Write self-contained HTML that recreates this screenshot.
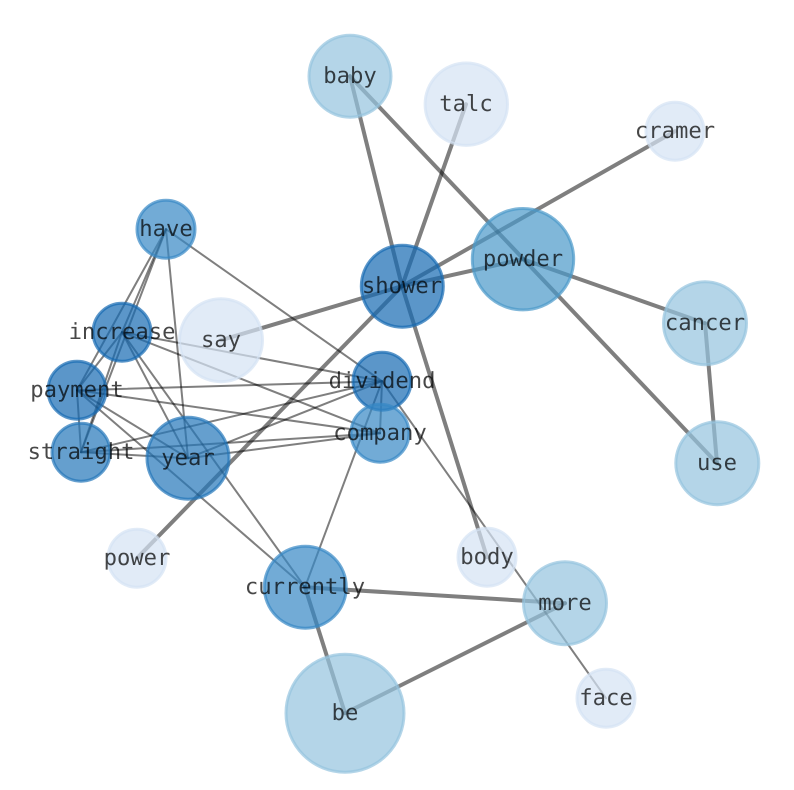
<!DOCTYPE html>
<html><head><meta charset="utf-8"><style>
html,body{margin:0;padding:0;background:#fff}
svg{display:block}
text{font-family:"DejaVu Sans Mono",monospace;font-size:22.2px;fill:#000;fill-opacity:.72;text-anchor:middle;dominant-baseline:central;text-rendering:geometricPrecision}
.t{stroke:#000;stroke-opacity:.5;stroke-width:4;stroke-linecap:round}
.n{stroke:#000;stroke-opacity:.5;stroke-width:2;stroke-linecap:round}
circle{fill-opacity:.7;stroke-opacity:.7;stroke-width:3}
.a{fill:#d4e3f3;stroke:#d4e3f3}
.b{fill:#94c3de;stroke:#94c3de}
.c{fill:#4a98c9;stroke:#4a98c9}
.d{fill:#3687c4;stroke:#3687c4}
.e{fill:#2376b9;stroke:#2376b9}
.f{fill:#1669b2;stroke:#1669b2}
</style></head><body>
<svg width="794" height="790" viewBox="0 0 794 790" xmlns="http://www.w3.org/2000/svg">
<g transform="translate(0,.2)">
<g class="t">
<line x1="350" y1="76" x2="402" y2="286"/>
<line x1="466" y1="104" x2="402" y2="286"/>
<line x1="675" y1="131" x2="402" y2="286"/>
<line x1="523" y1="259" x2="402" y2="286"/>
<line x1="221" y1="340" x2="402" y2="286"/>
<line x1="137" y1="558" x2="402" y2="286"/>
<line x1="487" y1="557" x2="402" y2="286"/>
<line x1="350" y1="76" x2="717" y2="463"/>
<line x1="523" y1="259" x2="705" y2="323"/>
<line x1="705" y1="323" x2="717" y2="463"/>
<line x1="305" y1="587" x2="565" y2="603"/>
<line x1="305" y1="587" x2="345" y2="713"/>
<line x1="345" y1="713" x2="565" y2="603"/>
</g>
<g class="n">
<line x1="166" y1="229" x2="122" y2="332"/>
<line x1="166" y1="229" x2="77" y2="390"/>
<line x1="166" y1="229" x2="81" y2="452"/>
<line x1="166" y1="229" x2="188" y2="458"/>
<line x1="166" y1="229" x2="382" y2="381"/>
<line x1="122" y1="332" x2="77" y2="390"/>
<line x1="122" y1="332" x2="81" y2="452"/>
<line x1="122" y1="332" x2="188" y2="458"/>
<line x1="122" y1="332" x2="382" y2="381"/>
<line x1="122" y1="332" x2="380" y2="433"/>
<line x1="122" y1="332" x2="305" y2="587"/>
<line x1="77" y1="390" x2="81" y2="452"/>
<line x1="77" y1="390" x2="188" y2="458"/>
<line x1="77" y1="390" x2="382" y2="381"/>
<line x1="77" y1="390" x2="380" y2="433"/>
<line x1="77" y1="390" x2="305" y2="587"/>
<line x1="81" y1="452" x2="188" y2="458"/>
<line x1="81" y1="452" x2="382" y2="381"/>
<line x1="81" y1="452" x2="380" y2="433"/>
<line x1="188" y1="458" x2="382" y2="381"/>
<line x1="188" y1="458" x2="380" y2="433"/>
<line x1="382" y1="381" x2="380" y2="433"/>
<line x1="382" y1="381" x2="305" y2="587"/>
<line x1="382" y1="381" x2="606" y2="698"/>
</g>
<circle class="b" cx="350" cy="76" r="41"/>
<circle class="a" cx="466.3" cy="104" r="41.2"/>
<circle class="a" cx="675" cy="131" r="29"/>
<circle class="d" cx="166" cy="229" r="29"/>
<circle class="f" cx="402.3" cy="286" r="41"/>
<circle class="c" cx="523" cy="259" r="50.7"/>
<circle class="b" cx="705" cy="323" r="41.5"/>
<circle class="f" cx="122" cy="332" r="29"/>
<circle class="a" cx="221" cy="340" r="41.5"/>
<circle class="f" cx="382" cy="381" r="29"/>
<circle class="f" cx="77" cy="390" r="29"/>
<circle class="d" cx="380" cy="433" r="29"/>
<circle class="e" cx="81" cy="452" r="29"/>
<circle class="e" cx="188" cy="458" r="41"/>
<circle class="b" cx="717.3" cy="463" r="41.5"/>
<circle class="a" cx="137" cy="558" r="29"/>
<circle class="a" cx="487" cy="557" r="29"/>
<circle class="d" cx="305.3" cy="587" r="41"/>
<circle class="b" cx="565" cy="603" r="41.5"/>
<circle class="a" cx="606" cy="698" r="29"/>
<circle class="b" cx="345" cy="713" r="59"/>
<text x="350" y="76">baby</text>
<text x="466" y="104">talc</text>
<text x="675" y="131">cramer</text>
<text x="166" y="229">have</text>
<text x="402" y="286">shower</text>
<text x="523" y="259">powder</text>
<text x="705" y="323">cancer</text>
<text x="122" y="332">increase</text>
<text x="221" y="340">say</text>
<text x="382" y="381">dividend</text>
<text x="77" y="390">payment</text>
<text x="380" y="433">company</text>
<text x="81" y="452">straight</text>
<text x="188" y="458">year</text>
<text x="717" y="463">use</text>
<text x="137" y="558">power</text>
<text x="487" y="557">body</text>
<text x="305" y="587">currently</text>
<text x="565" y="603">more</text>
<text x="606" y="698">face</text>
<text x="345" y="713">be</text>
</g>
</svg>
</body></html>
